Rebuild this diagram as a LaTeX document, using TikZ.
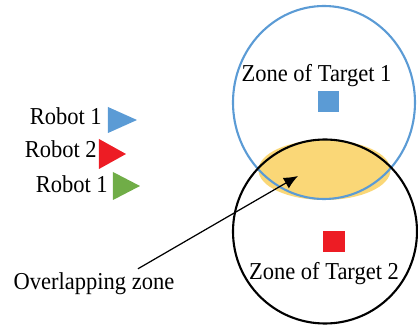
\documentclass[tikz,border=0pt]{standalone}
\usepackage{fontspec}
\setmainfont{Liberation Serif}
\usepackage{tikz}
\usetikzlibrary{arrows.meta}

\definecolor{zoneblue}{HTML}{5B9BD5}
\definecolor{robotred}{HTML}{ED1C24}
\definecolor{robotgreen}{HTML}{70AD47}
\definecolor{lensyellow}{HTML}{FAD777}

\tikzset{
    label/.style={font=\fontsize{12.8}{15}\selectfont, inner sep=0pt, yscale=1.08},
    zoneline/.style={line width=1.2pt}
}

\begin{document}
\begin{tikzpicture}
    \useasboundingbox (0,0) rectangle (8.36,6.52);

    % Overlapping zone (yellow)
    \fill[lensyellow] (6.49,3.12) circle [x radius=1.32cm, y radius=0.60cm];

    % Zone of target 1 (blue)
    \draw[zoneline, zoneblue] (6.48,4.47) circle [x radius=1.82cm, y radius=1.93cm];
    \fill[zoneblue] (6.37,4.27) rectangle (6.79,4.69);

    % Zone of target 2 (black)
    \draw[zoneline] (6.50,1.89) circle [radius=1.84cm];
    \fill[robotred] (6.47,1.48) rectangle (6.91,1.90);

    % Zone labels
    \node[label, anchor=base] (zone1) at (6.33,4.88) {Zone of Target 1};
    \node[label, anchor=base] (zone2) at (6.48,0.92) {Zone of Target 2};

    % Robots
    \node[label, anchor=base east] (robot1) at (2.04,4.02) {Robot 1};
    \node[label, anchor=base east] (robot2) at (1.94,3.36) {Robot 2};
    \node[label, anchor=base east] (robot3) at (2.16,2.66) {Robot 1};
    \fill[zoneblue] (2.16,4.38) -- (2.74,4.12) -- (2.16,3.86) -- cycle;
    \fill[robotred] (1.98,3.74) -- (2.52,3.44) -- (1.98,3.14) -- cycle;
    \fill[robotgreen] (2.26,3.08) -- (2.80,2.80) -- (2.26,2.52) -- cycle;

    % Pointer to the overlapping zone
    \node[label, anchor=base] (overlap) at (1.88,0.72) {Overlapping zone};
    \coordinate (lensspot) at (5.96,3.00);
    \draw[line width=0.7pt, -{Latex[length=8pt, width=7pt]}] ([xshift=0.88cm, yshift=0.08cm]overlap.north) -- (lensspot);

\end{tikzpicture}
\end{document}
